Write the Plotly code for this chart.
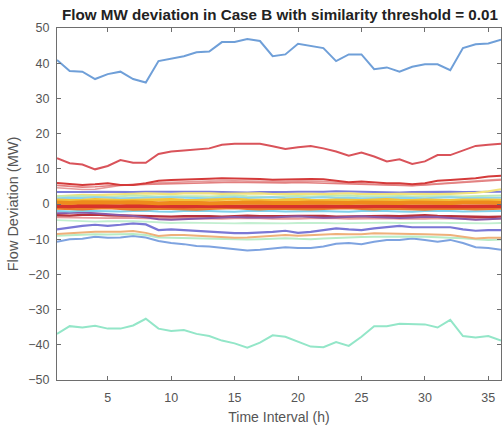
import plotly.graph_objects as go

hours = list(range(1, 37))

blue_top = [40.9,37.8,37.6,35.5,36.9,37.6,35.5,34.5,40.6,41.4,42.0,43.1,43.3,46.0,46.0,46.9,46.3,42.0,42.5,45.5,44.8,44.3,40.6,42.5,42.5,38.3,38.8,37.6,39.0,39.7,39.7,38.0,44.3,45.4,45.6,46.7]
green_bottom = [-36.9,-34.7,-35.1,-34.6,-35.4,-35.4,-34.5,-32.6,-35.4,-36.1,-35.8,-36.9,-37.5,-38.8,-39.6,-40.8,-39.4,-37.3,-37.7,-39.1,-40.5,-40.7,-39.2,-40.3,-37.7,-34.7,-34.7,-34.0,-34.2,-34.2,-35.1,-32.9,-37.5,-37.9,-37.5,-38.8]
red_upper = [13.0,11.6,11.2,9.85,10.8,12.5,11.7,11.7,14.2,14.9,15.2,15.6,15.8,16.8,17.1,17.1,17.1,16.4,15.6,16.1,16.5,15.8,14.9,13.7,14.6,13.5,12.1,12.7,11.4,12.1,13.9,13.9,15.3,16.5,16.8,17.1]
red_mid = [6.0,5.7,5.4,5.6,5.9,5.4,5.4,5.9,6.6,6.8,7.0,7.1,7.2,7.3,7.3,7.2,7.1,6.9,7.0,7.1,7.1,7.0,6.6,6.2,6.4,6.1,5.9,5.9,5.6,5.9,6.6,6.8,7.0,7.3,7.8,8.0]
red_mid2 = [4.6,4.3,4.1,4.2,4.8,5.3,5.5,5.6,6.0,6.2,6.3,6.4,6.5,6.6,6.6,6.5,6.4,6.3,6.4,6.5,6.5,6.4,6.2,5.9,5.8,5.6,5.5,5.4,5.3,5.5,5.8,5.9,6.2,6.5,6.8,7.0]
red_mid3 = [5.3,5.0,4.8,4.9,5.2,5.4,5.5,5.6,5.8,5.9,6.0,6.0,6.1,6.1,6.2,6.1,6.0,5.9,6.0,6.1,6.0,5.9,5.8,5.7,5.6,5.5,5.4,5.3,5.2,5.4,5.6,5.8,6.0,6.3,6.6,6.8]
purple_up = [3.4,3.3,3.4,3.5,3.4,3.3,3.4,3.5,3.6,3.5,3.5,3.6,3.5,3.4,3.3,3.3,3.4,3.3,3.4,3.5,3.4,3.5,3.6,3.5,3.4,3.5,3.4,3.3,3.4,3.5,3.4,3.5,3.4,3.5,3.6,3.5]
yellow_up = [2.2,2.5,2.6,2.5,2.7,2.8,2.9,3.0,2.9,2.8,3.0,3.1,3.0,2.9,3.0,3.1,3.0,2.8,2.9,3.0,2.9,2.8,2.9,3.0,2.8,2.7,2.8,2.9,2.8,2.7,2.8,2.9,3.0,3.2,3.6,4.2]
green_up = [2.2,2.1,2.3,2.2,2.0,2.2,2.4,2.3,2.1,2.2,2.3,2.2,2.1,2.3,2.4,2.2,2.1,2.0,2.2,2.3,2.1,2.2,2.3,2.4,2.2,2.1,2.2,2.3,2.1,2.2,2.3,2.2,2.1,2.2,2.3,2.4]
cyan_up = [1.6,1.8,1.7,1.9,1.8,1.6,1.7,1.8,2.0,1.9,1.8,1.7,1.6,1.8,1.9,1.7,1.8,1.9,1.7,1.6,1.8,1.9,1.7,1.8,1.6,1.7,1.9,1.8,1.7,1.6,1.8,1.9,1.7,1.8,1.7,1.8]
yellow_mid = [1.2,1.0,1.1,1.3,1.2,1.0,1.1,1.2,1.4,1.3,1.1,1.0,1.2,1.3,1.4,1.2,1.1,1.0,1.2,1.3,1.1,1.0,1.2,1.1,1.0,1.2,1.3,1.1,1.0,1.2,1.1,1.0,1.2,1.3,1.2,1.1]
orange_main = [0.4,0.3,0.5,0.4,0.3,0.4,0.5,0.3,0.2,0.3,0.4,0.3,0.2,0.3,0.4,0.5,0.4,0.3,0.2,0.3,0.4,0.3,0.2,0.3,0.4,0.3,0.2,0.3,0.4,0.3,0.2,0.3,0.4,0.5,0.4,0.3]
red_main = [-0.6,-0.7,-0.5,-0.6,-0.7,-0.6,-0.5,-0.6,-0.7,-0.8,-0.7,-0.6,-0.5,-0.6,-0.7,-0.6,-0.5,-0.6,-0.7,-0.6,-0.5,-0.6,-0.7,-0.8,-0.7,-0.6,-0.5,-0.6,-0.7,-0.6,-0.5,-0.6,-0.7,-0.6,-0.5,-0.6]
orange_low = [-1.2,-1.3,-1.4,-1.2,-1.1,-1.3,-1.5,-1.4,-1.2,-1.3,-1.4,-1.5,-1.3,-1.2,-1.1,-1.3,-1.4,-1.2,-1.3,-1.5,-1.4,-1.3,-1.2,-1.1,-1.3,-1.4,-1.2,-1.3,-1.4,-1.5,-1.3,-1.2,-1.3,-1.4,-1.3,-1.2]
cyan_low = [-2.0,-2.1,-1.9,-2.0,-2.2,-2.1,-2.0,-1.9,-2.1,-2.2,-2.0,-1.9,-2.0,-2.1,-2.2,-2.0,-1.9,-2.0,-2.1,-2.0,-1.9,-2.0,-2.1,-2.2,-2.0,-1.9,-2.0,-2.1,-2.2,-2.0,-1.9,-2.0,-2.1,-2.0,-1.9,-2.0]
purple_low = [-2.6,-2.5,-2.4,-2.6,-2.8,-3.0,-3.4,-3.8,-4.3,-4.5,-4.3,-4.1,-3.9,-3.8,-3.7,-3.8,-3.9,-3.8,-3.6,-3.5,-3.7,-3.9,-3.8,-3.6,-3.5,-3.7,-3.9,-4.0,-3.8,-3.6,-3.7,-4.0,-4.3,-4.5,-4.3,-4.1]
darkred_low = [-3.2,-3.3,-3.1,-3.0,-3.2,-3.3,-3.4,-3.3,-3.5,-3.6,-3.5,-3.4,-3.5,-3.6,-3.4,-3.3,-3.5,-3.6,-3.5,-3.4,-3.3,-3.4,-3.6,-3.5,-3.4,-3.3,-3.4,-3.5,-3.3,-3.2,-3.4,-3.5,-3.6,-3.8,-3.7,-3.6]
pink_low = [-3.8,-3.9,-4.0,-4.1,-4.0,-3.9,-4.0,-4.2,-4.3,-4.2,-4.1,-4.2,-4.3,-4.2,-4.1,-4.0,-4.1,-4.2,-4.3,-4.2,-4.1,-4.0,-4.1,-4.2,-4.1,-4.0,-4.1,-4.2,-4.3,-4.2,-4.1,-4.2,-4.3,-4.4,-4.3,-4.2]
green_low = [-4.6,-4.8,-4.9,-5.0,-4.9,-4.8,-4.9,-5.0,-5.3,-5.4,-5.3,-5.4,-5.5,-5.6,-5.5,-5.4,-5.5,-5.6,-5.5,-5.4,-5.3,-5.4,-5.5,-5.4,-5.3,-5.2,-5.3,-5.4,-5.3,-5.2,-5.3,-5.4,-5.5,-5.6,-5.5,-5.4]
purple_neg = [-7.2,-6.6,-6.2,-5.9,-6.2,-5.9,-5.5,-5.8,-7.4,-7.2,-7.4,-7.7,-8.0,-8.2,-8.3,-8.3,-8.2,-7.9,-7.6,-8.2,-7.9,-7.4,-6.9,-7.2,-7.4,-6.9,-6.6,-6.2,-6.6,-6.6,-6.7,-6.6,-7.2,-7.6,-7.4,-7.4]
orange_neg = [-8.5,-8.2,-8.1,-7.9,-8.0,-7.9,-7.7,-8.2,-9.1,-8.8,-8.8,-9.0,-9.3,-9.5,-9.6,-9.5,-9.3,-9.0,-8.8,-9.0,-8.8,-8.6,-8.5,-8.6,-8.6,-8.3,-8.3,-8.3,-8.5,-8.6,-8.6,-8.8,-9.3,-9.8,-9.6,-9.6]
green_neg = [-9.0,-8.8,-8.7,-8.6,-8.7,-8.6,-8.5,-8.8,-9.5,-9.6,-9.7,-9.8,-10.0,-10.1,-10.2,-10.1,-10.0,-9.8,-9.7,-9.9,-10.0,-9.8,-9.6,-9.5,-9.4,-9.3,-9.2,-9.1,-9.2,-9.3,-9.4,-9.5,-9.7,-10.0,-10.2,-10.1]
blue_neg = [-10.7,-10.0,-9.9,-9.3,-9.6,-9.5,-9.1,-9.5,-10.5,-11.1,-11.4,-11.9,-12.1,-12.5,-13.0,-13.2,-13.0,-12.7,-12.3,-12.5,-12.5,-12.1,-11.3,-11.1,-11.4,-10.7,-10.2,-10.2,-9.8,-10.2,-10.7,-10.2,-11.1,-12.3,-12.5,-13.0]

y_ticks = [-50, -40, -30, -20, -10, 0, 10, 20, 30, 40, 50]
x_ticks = [5, 10, 15, 20, 25, 30, 35]

series = [
    (blue_top, "#6f9fd8", 2.0),
    (green_bottom, "#93e6c8", 2.0),
    (red_upper, "#d9535a", 2.0),
    (red_mid2, "#e59a9a", 1.6),
    (red_mid3, "#e38080", 1.6),
    (red_mid, "#d43a3a", 2.0),
    (blue_neg, "#7ea3e0", 2.0),
    (green_neg, "#b8ecc6", 2.0),
    (orange_neg, "#efb07a", 2.0),
    (purple_neg, "#7a78d6", 2.2),
    (green_low, "#c2efd0", 1.8),
    (pink_low, "#e79a9a", 1.8),
    (darkred_low, "#b8323c", 2.4),
    (purple_low, "#8a5aa8", 2.0),
    (cyan_low, "#7fd0ea", 2.0),
    (purple_up, "#7b7ddb", 2.0),
    (yellow_up, "#f2e27a", 2.2),
    (green_up, "#bfeab5", 2.0),
    (cyan_up, "#8fd4ec", 2.0),
    (yellow_mid, "#f2c23a", 2.8),
    (orange_low, "#ea7a2a", 3.0),
    (red_main, "#d8322a", 3.8),
    (orange_main, "#ee8a1c", 4.0),
]

fig = go.Figure()
for vals, color, w in series:
    fig.add_trace(go.Scatter(x=hours, y=vals, mode="lines",
                             line=dict(color=color, width=w), showlegend=False,
                             hoverinfo="skip"))

font_family = "Liberation Sans, Arial, sans-serif"
axis_common = dict(showline=True, linecolor="#6e6e6e", linewidth=1.3, mirror="ticks",
                   ticks="inside", ticklen=4, tickcolor="#6e6e6e", showgrid=False,
                   zeroline=False,
                   tickfont=dict(family=font_family, size=12.5, color="#555555"))

fig.update_layout(
    width=502, height=427,
    margin=dict(l=57, r=1, t=28, b=47),
    paper_bgcolor="white", plot_bgcolor="white",
    title=dict(text="<b>Flow MW deviation in Case B with similarity threshold = 0.01</b>",
               x=280 / 502, xanchor="center", y=1 - 15 / 427, yanchor="middle",
               font=dict(family=font_family, size=15.2, color="#222222")),
    xaxis=dict(range=[1, 36], tickvals=x_ticks, ticklabelstandoff=6,
               title=dict(text="Time Interval (h)", standoff=8,
                          font=dict(family=font_family, size=14, color="#555555")),
               **axis_common),
    yaxis=dict(range=[-50, 50], tickvals=y_ticks, ticklabelstandoff=4,
               title=dict(text="Flow Deviation (MW)", standoff=6,
                          font=dict(family=font_family, size=14.5, color="#555555")),
               **axis_common),
)

fig.write_html("out.html", config={"displayModeBar": False},
               post_script="document.body.style.margin='0';")
